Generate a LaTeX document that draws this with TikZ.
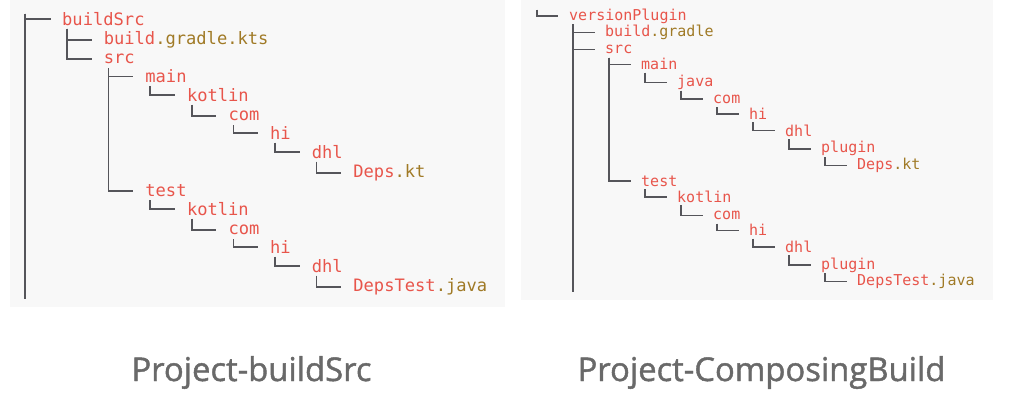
\documentclass[tikz,border=0pt]{standalone}
\usepackage{fontspec}
\newfontfamily\treefont{DejaVu Sans Mono}
\newfontfamily\titlefont[FakeBold=1.3]{Open Sans}
\definecolor{dirred}{RGB}{232,85,75}
\definecolor{filegold}{RGB}{160,122,38}
\definecolor{linegray}{RGB}{85,85,90}
\definecolor{titlegray}{RGB}{105,105,105}
\definecolor{panelbg}{RGB}{248,248,248}
\newcommand{\fname}[2]{\textcolor{dirred}{#1}\textcolor{filegold}{#2}}
\tikzset{
  lnode/.style={anchor=mid west, inner sep=0pt, text=dirred, font=\treefont\fontsize{17.1}{20}\selectfont},
  rnode/.style={anchor=mid west, inner sep=0pt, text=dirred, font=\treefont\fontsize{15}{18}\selectfont},
  treeline/.style={draw=linegray, line width=1.5pt},
  caption/.style={anchor=base, text=titlegray, font=\titlefont\fontsize{32.8}{38}\selectfont}
}
\begin{document}
\begin{tikzpicture}[x=1pt,y=-1pt]
    \useasboundingbox (0,0) rectangle (1024,400);
    \fill[panelbg] (10,0) rectangle (505,307);
    \fill[panelbg] (521,0) rectangle (993,300);

    % left tree
    \node[lnode] (l0) at (62,23.5) {buildSrc};
    \node[lnode] (l1) at (103.6,42.5) {\fname{build}{.gradle.kts}};
    \node[lnode] (l2) at (103.6,61.5) {src};
    \node[lnode] (l3) at (145.2,80.5) {main};
    \node[lnode] (l4) at (186.8,99.5) {kotlin};
    \node[lnode] (l5) at (228.4,118.5) {com};
    \node[lnode] (l6) at (270,137.5) {hi};
    \node[lnode] (l7) at (311.6,156.5) {dhl};
    \node[lnode] (l8) at (353.2,175.5) {\fname{Deps}{.kt}};
    \node[lnode] (l9) at (145.2,194.5) {test};
    \node[lnode] (l10) at (186.8,213.5) {kotlin};
    \node[lnode] (l11) at (228.4,232.5) {com};
    \node[lnode] (l12) at (270,251.5) {hi};
    \node[lnode] (l13) at (311.6,270.5) {dhl};
    \node[lnode] (l14) at (353.2,289.5) {\fname{DepsTest}{.java}};

    \coordinate (lt) at (25,13.5);
    \coordinate (lb) at (25,299);
    \draw[treeline] (lt) -- (lb);
    \draw[treeline] (lt) |- ([xshift=-11pt]l0.west);
    \foreach \p/\c in {l0/l1,l0/l2,l2/l3,l3/l4,l4/l5,l5/l6,l6/l7,l7/l8,
                       l2/l9,l9/l10,l10/l11,l11/l12,l12/l13,l13/l14}
        \draw[treeline] ([xshift=5pt,yshift=-9.5pt]\p.west) |- ([xshift=-12pt]\c.west);

    % right tree
    \node[rnode] (r0) at (569,18) {versionPlugin};
    \node[rnode] (r1) at (605,34.6) {\fname{build}{.gradle}};
    \node[rnode] (r2) at (605,51.2) {src};
    \node[rnode] (r3) at (641,67.8) {main};
    \node[rnode] (r4) at (677,84.4) {java};
    \node[rnode] (r5) at (713,101) {com};
    \node[rnode] (r6) at (749,117.6) {hi};
    \node[rnode] (r7) at (785,134.2) {dhl};
    \node[rnode] (r8) at (821,150.8) {plugin};
    \node[rnode] (r9) at (857,167.4) {\fname{Deps}{.kt}};
    \node[rnode] (r10) at (641,184) {test};
    \node[rnode] (r11) at (677,200.6) {kotlin};
    \node[rnode] (r12) at (713,217.2) {com};
    \node[rnode] (r13) at (749,233.8) {hi};
    \node[rnode] (r14) at (785,250.4) {dhl};
    \node[rnode] (r15) at (821,267) {plugin};
    \node[rnode] (r16) at (857,283.6) {\fname{DepsTest}{.java}};

    \coordinate (rt) at (537,9.7);
    \coordinate (rb) at (573,292);
    \draw[treeline] (rt) |- ([xshift=-11pt]r0.west);
    \draw[treeline] ([xshift=4pt,yshift=-8.3pt]r0.west) -- (rb);
    \foreach \p/\c in {r0/r1,r0/r2,r2/r3,r3/r4,r4/r5,r5/r6,r6/r7,r7/r8,r8/r9,
                       r2/r10,r10/r11,r11/r12,r12/r13,r13/r14,r14/r15,r15/r16}
        \draw[treeline] ([xshift=4pt,yshift=-8.3pt]\p.west) |- ([xshift=-10pt]\c.west);

    % captions
    \node[caption] (capL) at (251.5,381) {Project-buildSrc};
    \node[caption] (capR) at (761.5,381) {Project-ComposingBuild};
\end{tikzpicture}
\end{document}
